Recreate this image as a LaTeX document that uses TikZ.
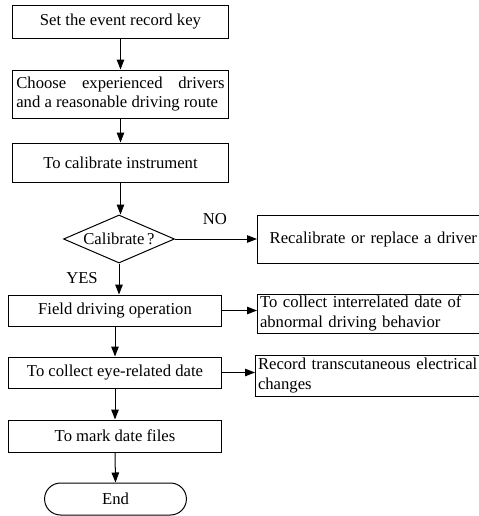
\documentclass[tikz,border=0pt]{standalone}
\usepackage{fontspec}
\setmainfont{Liberation Serif}
\usetikzlibrary{shapes.geometric, shapes.misc, arrows.meta}
\tikzset{every node/.style={font=\fontsize{10}{11.5}\selectfont},
         stepbox/.style={draw,line width=0.6pt,minimum width=130pt,inner sep=2pt},
         lowbox/.style={draw,line width=0.6pt,minimum width=128.4pt,minimum height=18.6pt,inner sep=2pt},
         sidebox/.style={draw,line width=0.6pt,anchor=west,text width=136pt,inner xsep=1.5pt,inner ysep=1pt,align=left},
         decision/.style={draw,diamond,line width=0.6pt,aspect=2.3,minimum width=66.6pt,minimum height=28.8pt,inner sep=0pt},
         terminal/.style={draw,rounded rectangle,line width=0.6pt,minimum width=91.8pt,minimum height=19.2pt},
         flow/.style={line width=0.6pt,-{Triangle[length=6pt,width=4.5pt]}},
        }

\begin{document}
\begin{tikzpicture}[x=0.6pt,y=-0.6pt]
        \useasboundingbox(0,0)rectangle(479,516);

        \node[stepbox,minimum height=19.8pt](key)at(120.5,21.5){Set the event record key};
        \node[stepbox,minimum height=28.8pt,text width=125pt,align=justify](drv)at(120.5,94){Choose experienced drivers and a reasonable driving route};
        \node[stepbox,minimum height=23.4pt](cal)at(120.5,162.5){To calibrate instrument};
        \node[decision](chk)at(119,239){Calibrate\,?};
        \node[sidebox,align=center,minimum height=28.8pt](rec)at(257,239){Recalibrate or replace a driver};
        \node(no)at(215,219){NO};
        \node(yes)at(82,278){YES};

        \draw[flow](key.south)--(key.south|-drv.north);
        \draw[flow](drv.south)--(drv.south|-cal.north);
        \draw[flow](cal.south)--(cal.south|-chk.north);
        \draw[flow](chk.east)--(rec.west);

        \node[lowbox](fld)at(115,310.5){Field driving operation};
        \node[sidebox,minimum height=23.4pt](abn)at(257,313.5){To collect interrelated date of\\abnormal driving behavior};
        \node[lowbox](eye)at(115,372.5){To collect eye-related date};
        \node[sidebox,minimum height=24.6pt](elc)at(255,375.5){Record transcutaneous electrical\\changes};
        \node[lowbox,minimum height=19.2pt](mrk)at(115,436){To mark date files};
        \node[terminal](end)at(115.5,499){End};

        \draw[flow](chk.south)--(chk.south|-fld.north);
        \draw[flow](fld.east)--(fld.east-|abn.west);
        \draw[flow](fld.south)--(eye.north);
        \draw[flow](eye.east)--(eye.east-|elc.west);
        \draw[flow](eye.south)--(mrk.north);
        \draw[flow](mrk.south)--(end.north);
    \end{tikzpicture}
\end{document}
